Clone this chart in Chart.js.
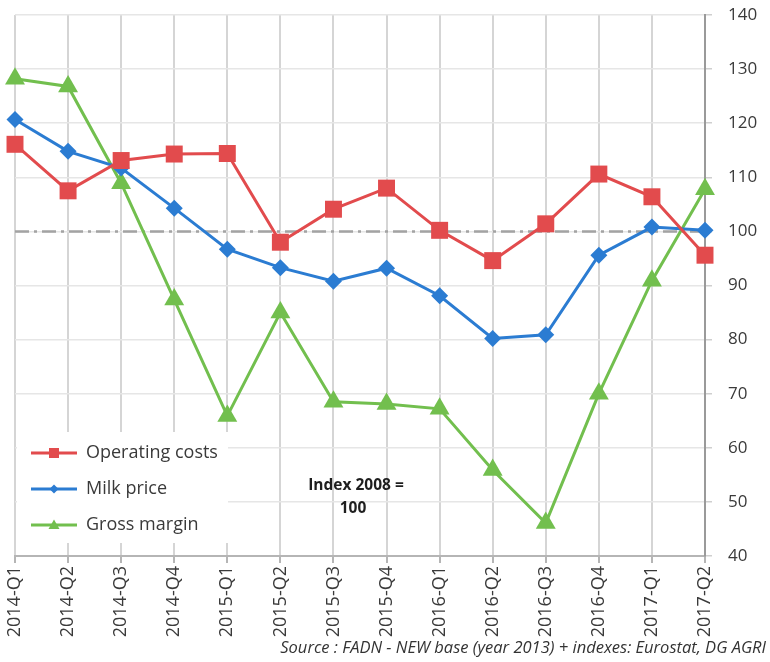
<!DOCTYPE html>
<html>
<head>
<meta charset="utf-8">
<title>Dairy farm indices</title>
<script src="https://cdn.jsdelivr.net/npm/chart.js@4.4.0/dist/chart.umd.min.js"></script>
<style>
  html, body { margin: 0; padding: 0; background: #ffffff; }
  #wrap { width: 770px; height: 662px; }
</style>
</head>
<body>
<div id="wrap"><canvas id="chart" width="770" height="662"></canvas></div>
<script>
// Quarters on the horizontal axis
const quarters = ['2014-Q1', '2014-Q2', '2014-Q3', '2014-Q4', '2015-Q1', '2015-Q2', '2015-Q3',
  '2015-Q4', '2016-Q1', '2016-Q2', '2016-Q3', '2016-Q4', '2017-Q1', '2017-Q2'];

// Index values (2008 = 100)
const operatingCosts = [116.1, 107.5, 113.1, 114.3, 114.4, 98.0, 104.1, 108.0, 100.2, 94.6, 101.4, 110.6, 106.4, 95.6];
const milkPrice = [120.7, 114.8, 111.7, 104.3, 96.7, 93.3, 90.8, 93.2, 88.1, 80.2, 80.9, 95.6, 100.8, 100.2];
const grossMargin = [128.2, 126.8, 108.9, 87.4, 65.9, 85.0, 68.5, 68.1, 67.2, 55.9, 46.1, 70.0, 90.9, 107.8];

// Base level drawn as a dash-dot reference line
const baseLevel = quarters.map(() => 100);

// Value axis range
const yMin = 40;
const yMax = 140;
const yStep = 10;

const RED = '#e24b4d';
const BLUE = '#2b7cd2';
const GREEN = '#72bf4e';
const TEXT = '#3a3a3a';

Chart.defaults.font.family = "'Open Sans', 'DejaVu Sans', sans-serif";
Chart.defaults.color = TEXT;

// Small line-with-marker samples for the legend
function swatch(color, shape) {
  const c = document.createElement('canvas');
  c.width = 46; c.height = 16;
  const g = c.getContext('2d');
  g.strokeStyle = color; g.lineWidth = 3;
  g.beginPath(); g.moveTo(0, 8); g.lineTo(46, 8); g.stroke();
  g.fillStyle = color;
  g.beginPath();
  if (shape === 'rect') {
    g.rect(18, 3, 10, 10);
  } else if (shape === 'rectRot') {
    g.moveTo(23, 3.5); g.lineTo(27.5, 8); g.lineTo(23, 12.5); g.lineTo(18.5, 8); g.closePath();
  } else {
    g.moveTo(23, 2.5); g.lineTo(28.5, 12); g.lineTo(17.5, 12); g.closePath();
  }
  g.fill();
  return c;
}
const swatches = [swatch(RED, 'rect'), swatch(BLUE, 'rectRot'), swatch(GREEN, 'triangle')];

// Places the legend inside the plot, on a white panel, and writes the notes
const extras = {
  id: 'extras',
  afterLayout(chart) {
    const lg = chart.legend;
    lg.left = 13; lg.right = 228;
    lg.top = 426; lg.bottom = 620;
  },
  beforeDatasetsDraw(chart) {
    const ctx = chart.ctx;
    ctx.save();
    ctx.fillStyle = '#ffffff';
    ctx.fillRect(17, 432, 211, 111);
    ctx.restore();
    chart.legend.draw(chart.chartArea);
  },
  afterDraw(chart) {
    const ctx = chart.ctx;
    ctx.save();
    ctx.fillStyle = '#1e1e1e';
    ctx.textAlign = 'center';
    ctx.textBaseline = 'middle';
    ctx.font = "bold 15.5px 'Open Sans', sans-serif";
    ctx.fillText('Index 2008 =', 356, 486);
    ctx.fillText('100', 353, 509);
    ctx.fillStyle = '#333333';
    ctx.textAlign = 'right';
    ctx.font = "italic 16.5px 'Open Sans', sans-serif";
    ctx.fillText('Source : FADN - NEW base (year 2013) + indexes: Eurostat, DG AGRI', 766, 648);
    ctx.restore();
  }
};

new Chart(document.getElementById('chart'), {
  type: 'line',
  data: {
    labels: quarters,
    datasets: [
      {
        label: 'Operating costs', data: operatingCosts,
        borderColor: RED, backgroundColor: RED, borderWidth: 3,
        pointStyle: 'rect', pointRadius: 12, pointBorderWidth: 0, clip: false
      },
      {
        label: 'Milk price', data: milkPrice,
        borderColor: BLUE, backgroundColor: BLUE, borderWidth: 3,
        pointStyle: 'rectRot', pointRadius: 8.5, pointBorderWidth: 0, clip: false
      },
      {
        label: 'Gross margin', data: grossMargin,
        borderColor: GREEN, backgroundColor: GREEN, borderWidth: 3,
        pointStyle: 'triangle', pointRadius: 11.5, pointBorderWidth: 0, clip: false
      },
      {
        label: 'base', data: baseLevel, order: 10,
        borderColor: '#a3a3a3', borderWidth: 2.5, borderDash: [14, 5, 3, 5],
        pointRadius: 0
      }
    ]
  },
  options: {
    responsive: false,
    animation: false,
    layout: { padding: { left: 15, top: 15, right: 0, bottom: 0 } },
    elements: { line: { tension: 0 } },
    scales: {
      x: {
        offset: false,
        grid: { color: '#d5d5d5', lineWidth: 2, tickLength: 7, tickColor: '#b5b5b5' },
        border: { color: '#b5b5b5', width: 2 },
        ticks: {
          maxRotation: 90, minRotation: 90, autoSkip: false, padding: 3,
          color: TEXT, font: { size: 18 }
        },
        afterFit(scale) { scale.height = 106; }
      },
      y: {
        position: 'right',
        min: yMin, max: yMax,
        grid: { color: '#e6e6e6', lineWidth: 1.5, tickLength: 7, tickColor: '#cfcfcf' },
        border: { color: '#9a9a9a', width: 2 },
        ticks: { stepSize: yStep, padding: 16, color: TEXT, font: { size: 17 } },
        afterFit(scale) {
          scale.width = 65;
          scale.paddingTop = 0;
          scale.paddingBottom = 0;
        }
      }
    },
    plugins: {
      tooltip: { enabled: false },
      legend: {
        position: 'chartArea',
        align: 'start',
        labels: {
          usePointStyle: true,
          pointStyleWidth: 46,
          padding: 18,
          color: TEXT,
          font: { size: 18 },
          filter: (item) => item.datasetIndex < 3,
          generateLabels(chart) {
            const items = Chart.defaults.plugins.legend.labels.generateLabels(chart);
            items.forEach((it) => { if (it.datasetIndex < 3) it.pointStyle = swatches[it.datasetIndex]; });
            return items;
          }
        }
      }
    }
  },
  plugins: [extras]
});
</script>
</body>
</html>
